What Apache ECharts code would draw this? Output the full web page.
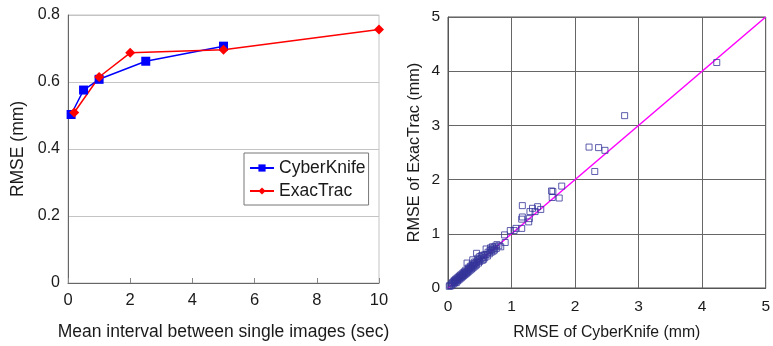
<!DOCTYPE html>
<html>
<head>
<meta charset="utf-8">
<script src="https://cdn.jsdelivr.net/npm/echarts@6/dist/echarts.min.js"></script>
<style>
  html, body { margin: 0; padding: 0; background: #fff; }
  #chart { width: 773px; height: 346px; }
</style>
</head>
<body>
<div id="chart"></div>
<script>
// left panel: RMSE vs mean imaging interval
var ckInterval = [0.1, 0.5, 1, 2.5, 5];
var ckRmse = [0.503, 0.576, 0.608, 0.662, 0.707];
var etInterval = [0.2, 1, 2, 5, 10];
var etRmse = [0.509, 0.615, 0.687, 0.696, 0.757];
var leftYTicks = [0, 0.8, 0.2];   // min, max, step
var leftXTicks = [0, 10, 2];

// right panel: per-case RMSE, CyberKnife vs ExacTrac
var cyberKnifeRmse = [
  0.02, 0.03, 0.05, 0.06, 0.07, 0.08, 0.09, 0.10, 0.10, 0.11, 0.12, 0.12, 0.13, 0.14, 0.14,
  0.15, 0.16, 0.16, 0.17, 0.18, 0.18, 0.19, 0.20, 0.20, 0.21, 0.22, 0.22, 0.23, 0.24, 0.24,
  0.25, 0.26, 0.26, 0.27, 0.28, 0.28, 0.29, 0.30, 0.30, 0.31, 0.32, 0.32, 0.33, 0.34, 0.35,
  0.35, 0.36, 0.37, 0.38, 0.38, 0.39, 0.39, 0.40, 0.41, 0.42, 0.42, 0.43, 0.44, 0.45, 0.45,
  0.46, 0.47, 0.48, 0.49, 0.50, 0.50, 0.52, 0.53, 0.54, 0.55, 0.56, 0.57, 0.58, 0.60, 0.60,
  0.62, 0.63, 0.65, 0.66, 0.67, 0.68, 0.69, 0.70, 0.71, 0.72, 0.73, 0.74, 0.76, 0.77, 0.80,
  0.83, 0.89, 0.90, 0.98, 1.04, 1.07, 1.16, 1.16, 1.17, 1.17, 1.27, 1.28, 1.29, 1.33, 1.37,
  1.41, 1.46, 1.63, 1.64, 1.65, 1.75, 1.79, 2.22, 2.31, 2.37, 2.47, 2.78, 4.23
];
var exacTracRmse = [
  0.03, 0.05, 0.04, 0.08, 0.10, 0.07, 0.12, 0.09, 0.14, 0.11, 0.13, 0.16, 0.10, 0.15, 0.18,
  0.13, 0.17, 0.20, 0.15, 0.19, 0.22, 0.17, 0.21, 0.24, 0.19, 0.23, 0.26, 0.21, 0.25, 0.28,
  0.23, 0.27, 0.30, 0.25, 0.29, 0.33, 0.27, 0.31, 0.46, 0.29, 0.34, 0.37, 0.31, 0.36, 0.33,
  0.40, 0.38, 0.35, 0.41, 0.44, 0.52, 0.37, 0.42, 0.39, 0.45, 0.48, 0.41, 0.47, 0.64, 0.43,
  0.50, 0.55, 0.46, 0.52, 0.58, 0.49, 0.54, 0.60, 0.51, 0.57, 0.53, 0.61, 0.56, 0.62, 0.72,
  0.59, 0.66, 0.63, 0.69, 0.74, 0.66, 0.71, 0.76, 0.68, 0.74, 0.70, 0.77, 0.73, 0.80, 0.78,
  0.76, 0.98, 0.84, 1.06, 1.06, 1.10, 1.10, 1.27, 1.31, 1.52, 1.22, 1.28, 1.41, 1.47, 1.41,
  1.50, 1.45, 1.79, 1.67, 1.78, 1.66, 1.88, 2.60, 2.15, 2.59, 2.54, 3.18, 4.16
];
var identityLine = [0, 5];
var rightTicks = [0, 5, 1];

var font = 'Liberation Sans, Arial, sans-serif';
var txt = '#1a1a1a';

var scatterData = cyberKnifeRmse.map(function (v, i) { return [v, exacTracRmse[i]]; });

var chart = echarts.init(document.getElementById('chart'));
var option = {
  animation: false,
  textStyle: { fontFamily: font, color: txt },
  grid: [
    { left: 68, right: 394, top: 15, bottom: 63, show: true, borderColor: '#c4c4c4', borderWidth: 1 },
    { left: 448, right: 5, top: 17, bottom: 56, show: true, borderColor: '#555', borderWidth: 1 }
  ],
  legend: {
    left: 244, top: 153,
    orient: 'vertical',
    padding: [6, 3, 5, 5],
    itemGap: 5,
    itemWidth: 24, itemHeight: 9,
    borderColor: '#777', borderWidth: 1,
    textStyle: { fontFamily: font, fontSize: 17.5, color: txt, padding: [0, 0, 0, 0] },
    data: ['CyberKnife', 'ExacTrac']
  },
  xAxis: [
    {
      gridIndex: 0, type: 'value',
      min: leftXTicks[0], max: leftXTicks[1], interval: leftXTicks[2],
      name: 'Mean interval between single images (sec)',
      nameLocation: 'middle', nameGap: 40,
      nameTextStyle: { fontSize: 17.5, color: txt, fontFamily: font },
      axisLine: { lineStyle: { color: '#666', width: 1 } },
      axisTick: { show: true, inside: true, length: 5, lineStyle: { color: '#888' } },
      axisLabel: { fontSize: 16.5, color: txt, margin: 9, fontFamily: font },
      splitLine: { show: false }
    },
    {
      gridIndex: 1, type: 'value',
      min: rightTicks[0], max: rightTicks[1], interval: rightTicks[2],
      name: 'RMSE of CyberKnife (mm)',
      nameLocation: 'middle', nameGap: 37,
      nameTextStyle: { fontSize: 15.8, color: txt, fontFamily: font },
      axisLine: { lineStyle: { color: '#555', width: 1 } },
      axisTick: { show: false },
      axisLabel: { fontSize: 15.5, color: txt, margin: 11, fontFamily: font },
      splitLine: { show: true, lineStyle: { color: '#666', width: 1 } }
    }
  ],
  yAxis: [
    {
      gridIndex: 0, type: 'value',
      min: leftYTicks[0], max: leftYTicks[1], interval: leftYTicks[2],
      name: 'RMSE (mm)',
      nameLocation: 'middle', nameGap: 41,
      nameTextStyle: { fontSize: 17.5, color: txt, fontFamily: font },
      axisLine: { show: true, lineStyle: { color: '#666', width: 1 } },
      axisTick: { show: false },
      axisLabel: { fontSize: 16, color: txt, margin: 8, fontFamily: font },
      splitLine: { show: true, lineStyle: { color: '#c4c4c4', width: 1 } }
    },
    {
      gridIndex: 1, type: 'value',
      min: rightTicks[0], max: rightTicks[1], interval: rightTicks[2],
      name: 'RMSE of ExacTrac (mm)',
      nameLocation: 'middle', nameGap: 25,
      nameTextStyle: { fontSize: 16.2, color: txt, fontFamily: font },
      axisLine: { show: true, lineStyle: { color: '#555', width: 1 } },
      axisTick: { show: false },
      axisLabel: { fontSize: 15.5, color: txt, margin: 8, fontFamily: font },
      splitLine: { show: true, lineStyle: { color: '#666', width: 1 } }
    }
  ],
  series: [
    {
      name: 'CyberKnife', type: 'line', xAxisIndex: 0, yAxisIndex: 0,
      data: ckInterval.map(function (x, i) { return [x, ckRmse[i]]; }),
      symbol: 'rect', symbolSize: 9,
      lineStyle: { color: '#0000ff', width: 1.5 },
      itemStyle: { color: '#0000ff' }
    },
    {
      name: 'ExacTrac', type: 'line', xAxisIndex: 0, yAxisIndex: 0,
      data: etInterval.map(function (x, i) { return [x, etRmse[i]]; }),
      symbol: 'diamond', symbolSize: 10,
      lineStyle: { color: '#ff0000', width: 1.5 },
      itemStyle: { color: '#ff0000' }
    },
    {
      name: 'identity', type: 'line', xAxisIndex: 1, yAxisIndex: 1,
      data: identityLine.map(function (v) { return [v, v]; }),
      symbol: 'none',
      lineStyle: { color: '#ff00ff', width: 1.5 },
      z: 3
    },
    {
      name: 'cases', type: 'scatter', xAxisIndex: 1, yAxisIndex: 1,
      data: scatterData,
      symbol: 'rect', symbolSize: 6,
      itemStyle: { color: 'rgba(0,0,0,0)', borderColor: '#34349a', borderWidth: 1 },
      z: 4
    }
  ]
};
chart.setOption(option);
</script>
</body>
</html>
